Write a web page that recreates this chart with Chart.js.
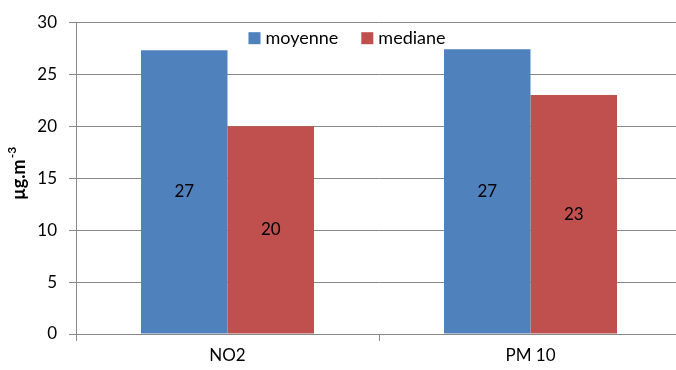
<!DOCTYPE html>
<html>
<head>
<meta charset="utf-8">
<script src="https://cdn.jsdelivr.net/npm/chart.js@4.4.1/dist/chart.umd.min.js"></script>
<style>
  html, body { margin: 0; padding: 0; background: #fff; overflow: hidden; }
  #wrap { width: 676px; height: 370px; overflow: hidden; }
</style>
</head>
<body>
<div id="wrap"><canvas id="c" width="682" height="370"></canvas></div>
<script>
// Pollutants and concentration statistics (µg.m-3)
const categories = ['NO2', 'PM 10'];
const moyenne = [27.3, 27.4];
const mediane = [20, 23];
const yTicks = [0, 5, 10, 15, 20, 25, 30];

const FONT = 'Lato, "Liberation Sans", sans-serif';
const GRID = '#888888';

// Value labels centred inside each bar
const barLabels = {
  id: 'barLabels',
  afterDatasetsDraw(chart) {
    const ctx = chart.ctx;
    ctx.save();
    ctx.font = '17px ' + FONT;
    ctx.fillStyle = '#000';
    ctx.textAlign = 'center';
    ctx.textBaseline = 'middle';
    chart.data.datasets.forEach((ds, i) => {
      chart.getDatasetMeta(i).data.forEach((bar, j) => {
        const v = ds.data[j];
        const mid = (bar.y + bar.base) / 2;
        ctx.fillText(String(Math.round(v)), bar.x, mid);
      });
    });
    ctx.restore();
  }
};

// Horizontal legend drawn inside the top of the plot area
const innerLegend = {
  id: 'innerLegend',
  afterDraw(chart) {
    const ctx = chart.ctx;
    const box = 12, gapText = 5, gapItem = 23;
    ctx.save();
    ctx.font = '18px ' + FONT;
    ctx.textBaseline = 'middle';
    ctx.textAlign = 'left';
    const items = chart.data.datasets.map(ds => ({
      text: ds.label, color: ds.backgroundColor, w: ctx.measureText(ds.label).width
    }));
    const total = items.reduce((s, it) => s + box + gapText + it.w, 0) + gapItem * (items.length - 1);
    let x = 347 - total / 2;
    const y = chart.chartArea.top + 16;
    items.forEach(it => {
      ctx.fillStyle = it.color;
      ctx.fillRect(x, y - box / 2, box, box);
      x += box + gapText;
      ctx.fillStyle = '#000';
      ctx.fillText(it.text, x, y);
      x += it.w + gapItem;
    });
    ctx.restore();
  }
};

// Rotated y-axis title with superscript exponent
const yTitle = {
  id: 'yTitle',
  afterDraw(chart) {
    const ctx = chart.ctx;
    const main = 'µg.m';
    const sup = '-3';
    ctx.save();
    ctx.translate(19, 174);
    ctx.rotate(-Math.PI / 2);
    ctx.fillStyle = '#000';
    ctx.textBaseline = 'alphabetic';
    ctx.font = 'bold 18px ' + FONT;
    const w1 = ctx.measureText(main).width;
    ctx.font = 'bold 12px ' + FONT;
    const w2 = ctx.measureText(sup).width;
    const start = -(w1 + w2) / 2;
    ctx.font = 'bold 18px ' + FONT;
    ctx.textAlign = 'left';
    ctx.fillText(main, start, 6);
    ctx.font = 'bold 12px ' + FONT;
    ctx.fillText(sup, start + w1 + 1, -3);
    ctx.restore();
  }
};

new Chart(document.getElementById('c'), {
  type: 'bar',
  data: {
    labels: categories,
    datasets: [
      { label: 'moyenne', data: moyenne, backgroundColor: '#4F81BD' },
      { label: 'mediane', data: mediane, backgroundColor: '#C0504D' }
    ]
  },
  options: {
    responsive: false,
    animation: false,
    devicePixelRatio: 1,
    categoryPercentage: 0.571,
    barPercentage: 1,
    layout: { padding: { top: 21, left: 0, right: 0, bottom: 0 } },
    plugins: {
      legend: { display: false },
      tooltip: { enabled: false }
    },
    scales: {
      x: {
        grid: {
          display: true,
          drawOnChartArea: false,
          offset: true,
          color: GRID,
          tickLength: 7
        },
        border: { color: GRID, width: 1 },
        ticks: { color: '#000', font: { family: FONT, size: 17 }, padding: 4 },
        afterFit(scale) { scale.height = 36; }
      },
      y: {
        min: 0,
        max: 30,
        afterBuildTicks(scale) { scale.ticks = yTicks.map(v => ({ value: v })); },
        grid: { color: GRID, tickLength: 7 },
        border: { color: GRID, width: 1 },
        ticks: { color: '#000', font: { family: FONT, size: 17 }, padding: 12 },
        afterFit(scale) { scale.width = 76; }
      }
    }
  },
  plugins: [barLabels, innerLegend, yTitle]
});
</script>
</body>
</html>
